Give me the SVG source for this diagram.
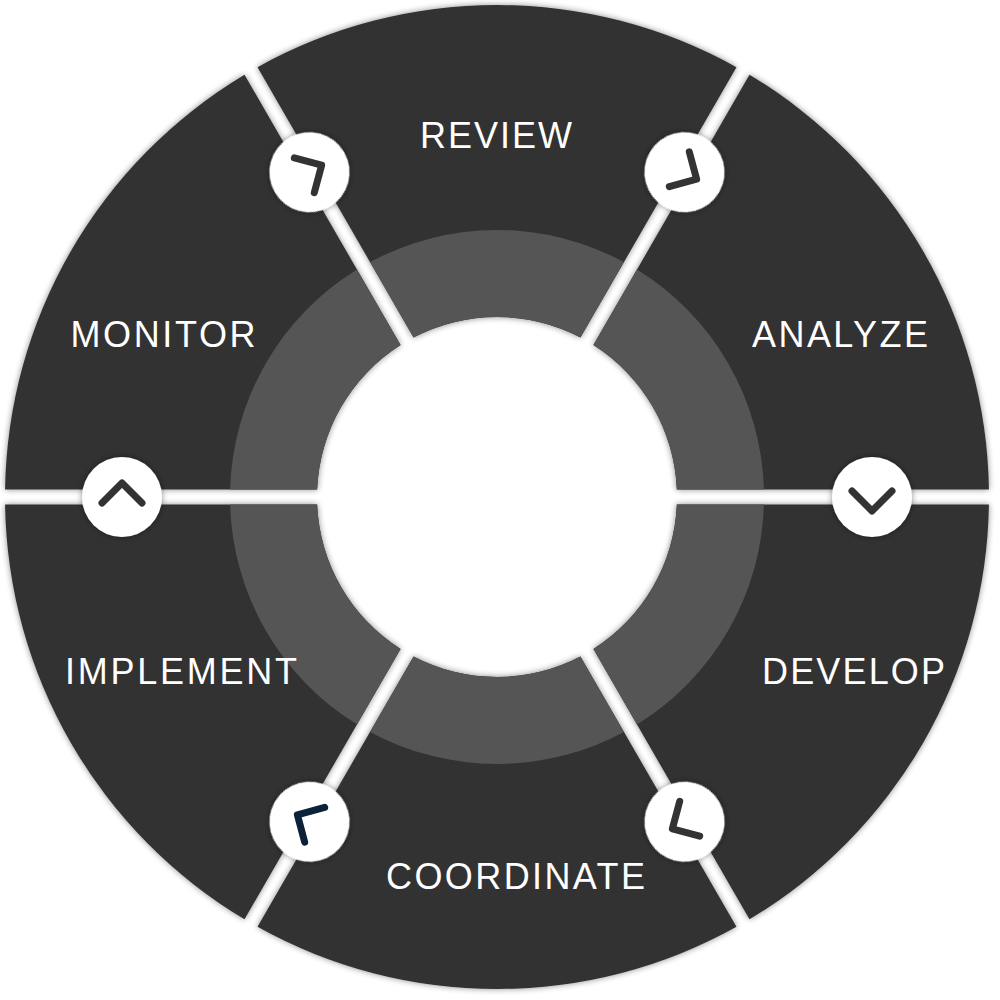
<svg xmlns="http://www.w3.org/2000/svg" width="1000" height="1000" viewBox="0 0 1000 1000">
<style>
.dark{fill:#333333}
.ring{fill:#555555}
.lbl{font-family:"Liberation Sans",Arial,sans-serif;font-size:36px;fill:#ffffff;text-anchor:middle}
.knob{fill:#ffffff}
.chev{fill:none;stroke:#333333;stroke-width:7;stroke-linecap:round;stroke-linejoin:round}
</style>
<defs>
<filter id="sh" x="-20%" y="-20%" width="140%" height="140%">
<feGaussianBlur in="SourceAlpha" stdDeviation="3"/>
<feComponentTransfer><feFuncA type="linear" slope="0.45"/></feComponentTransfer>
<feMerge><feMergeNode/><feMergeNode in="SourceGraphic"/></feMerge>
</filter>
</defs>
<rect width="1000" height="1000" fill="#ffffff"/>
<g id="review">
<g filter="url(#sh)">
<path class="dark" d="M257.52,67.22 A492,492 0 0 1 736.48,67.22 L580.43,337.50 A180,180 0 0 0 413.57,337.50 Z"/>
<path class="ring" d="M370.05,262.11 A267,267 0 0 1 623.95,262.11 L580.43,337.50 A180,180 0 0 0 413.57,337.50 Z"/>
</g>
<text class="lbl" x="496" y="148" textLength="152" lengthAdjust="spacing">REVIEW</text>
</g>
<g id="analyze">
<g filter="url(#sh)">
<path class="dark" d="M749.47,74.72 A492,492 0 0 1 988.94,489.5 L676.84,489.5 A180,180 0 0 0 593.42,345.00 Z"/>
<path class="ring" d="M636.94,269.61 A267,267 0 0 1 763.90,489.5 L676.84,489.5 A180,180 0 0 0 593.42,345.00 Z"/>
</g>
<text class="lbl" x="840" y="347" textLength="176" lengthAdjust="spacing">ANALYZE</text>
</g>
<g id="develop">
<g filter="url(#sh)">
<path class="dark" d="M988.94,504.5 A492,492 0 0 1 749.47,919.29 L593.42,649.00 A180,180 0 0 0 676.84,504.5 Z"/>
<path class="ring" d="M763.90,504.5 A267,267 0 0 1 636.94,724.39 L593.42,649.00 A180,180 0 0 0 676.84,504.5 Z"/>
</g>
<text class="lbl" x="853.5" y="684" textLength="183" lengthAdjust="spacing">DEVELOP</text>
</g>
<g id="coordinate">
<g filter="url(#sh)">
<path class="dark" d="M736.48,926.79 A492,492 0 0 1 257.52,926.79 L413.57,656.50 A180,180 0 0 0 580.43,656.50 Z"/>
<path class="ring" d="M623.95,731.89 A267,267 0 0 1 370.05,731.89 L413.57,656.50 A180,180 0 0 0 580.43,656.50 Z"/>
</g>
<text class="lbl" x="515.5" y="889" textLength="259" lengthAdjust="spacing">COORDINATE</text>
</g>
<g id="implement">
<g filter="url(#sh)">
<path class="dark" d="M244.53,919.29 A492,492 0 0 1 5.06,504.5 L317.16,504.5 A180,180 0 0 0 400.58,649.00 Z"/>
<path class="ring" d="M357.06,724.39 A267,267 0 0 1 230.11,504.5 L317.16,504.5 A180,180 0 0 0 400.58,649.00 Z"/>
</g>
<text class="lbl" x="181" y="684" textLength="232" lengthAdjust="spacing">IMPLEMENT</text>
</g>
<g id="monitor">
<g filter="url(#sh)">
<path class="dark" d="M5.06,489.5 A492,492 0 0 1 244.53,74.72 L400.58,345.00 A180,180 0 0 0 317.16,489.5 Z"/>
<path class="ring" d="M230.11,489.5 A267,267 0 0 1 357.06,269.61 L400.58,345.00 A180,180 0 0 0 317.16,489.5 Z"/>
</g>
<text class="lbl" x="163" y="347" textLength="185" lengthAdjust="spacing">MONITOR</text>
</g>
<g id="connectors">
<g transform="translate(872,497) rotate(0)"><circle class="knob" r="40" filter="url(#sh)"/><polyline class="chev" points="-20,-6 0,14 20,-6"/></g>
<g transform="translate(684.5,821.76) rotate(60)"><circle class="knob" r="40" filter="url(#sh)"/><polyline class="chev" points="-20,-6 0,14 20,-6"/></g>
<g transform="translate(309.5,821.76) rotate(120)"><circle class="knob" r="40" filter="url(#sh)"/><polyline class="chev" points="-20,-6 0,14 20,-6" style="stroke:#0c2239"/></g>
<g transform="translate(122,497) rotate(180)"><circle class="knob" r="40" filter="url(#sh)"/><polyline class="chev" points="-20,-6 0,14 20,-6"/></g>
<g transform="translate(309.5,172.24) rotate(240)"><circle class="knob" r="40" filter="url(#sh)"/><polyline class="chev" points="-20,-6 0,14 20,-6"/></g>
<g transform="translate(684.5,172.24) rotate(300)"><circle class="knob" r="40" filter="url(#sh)"/><polyline class="chev" points="-20,-6 0,14 20,-6"/></g>
</g>
</svg>
